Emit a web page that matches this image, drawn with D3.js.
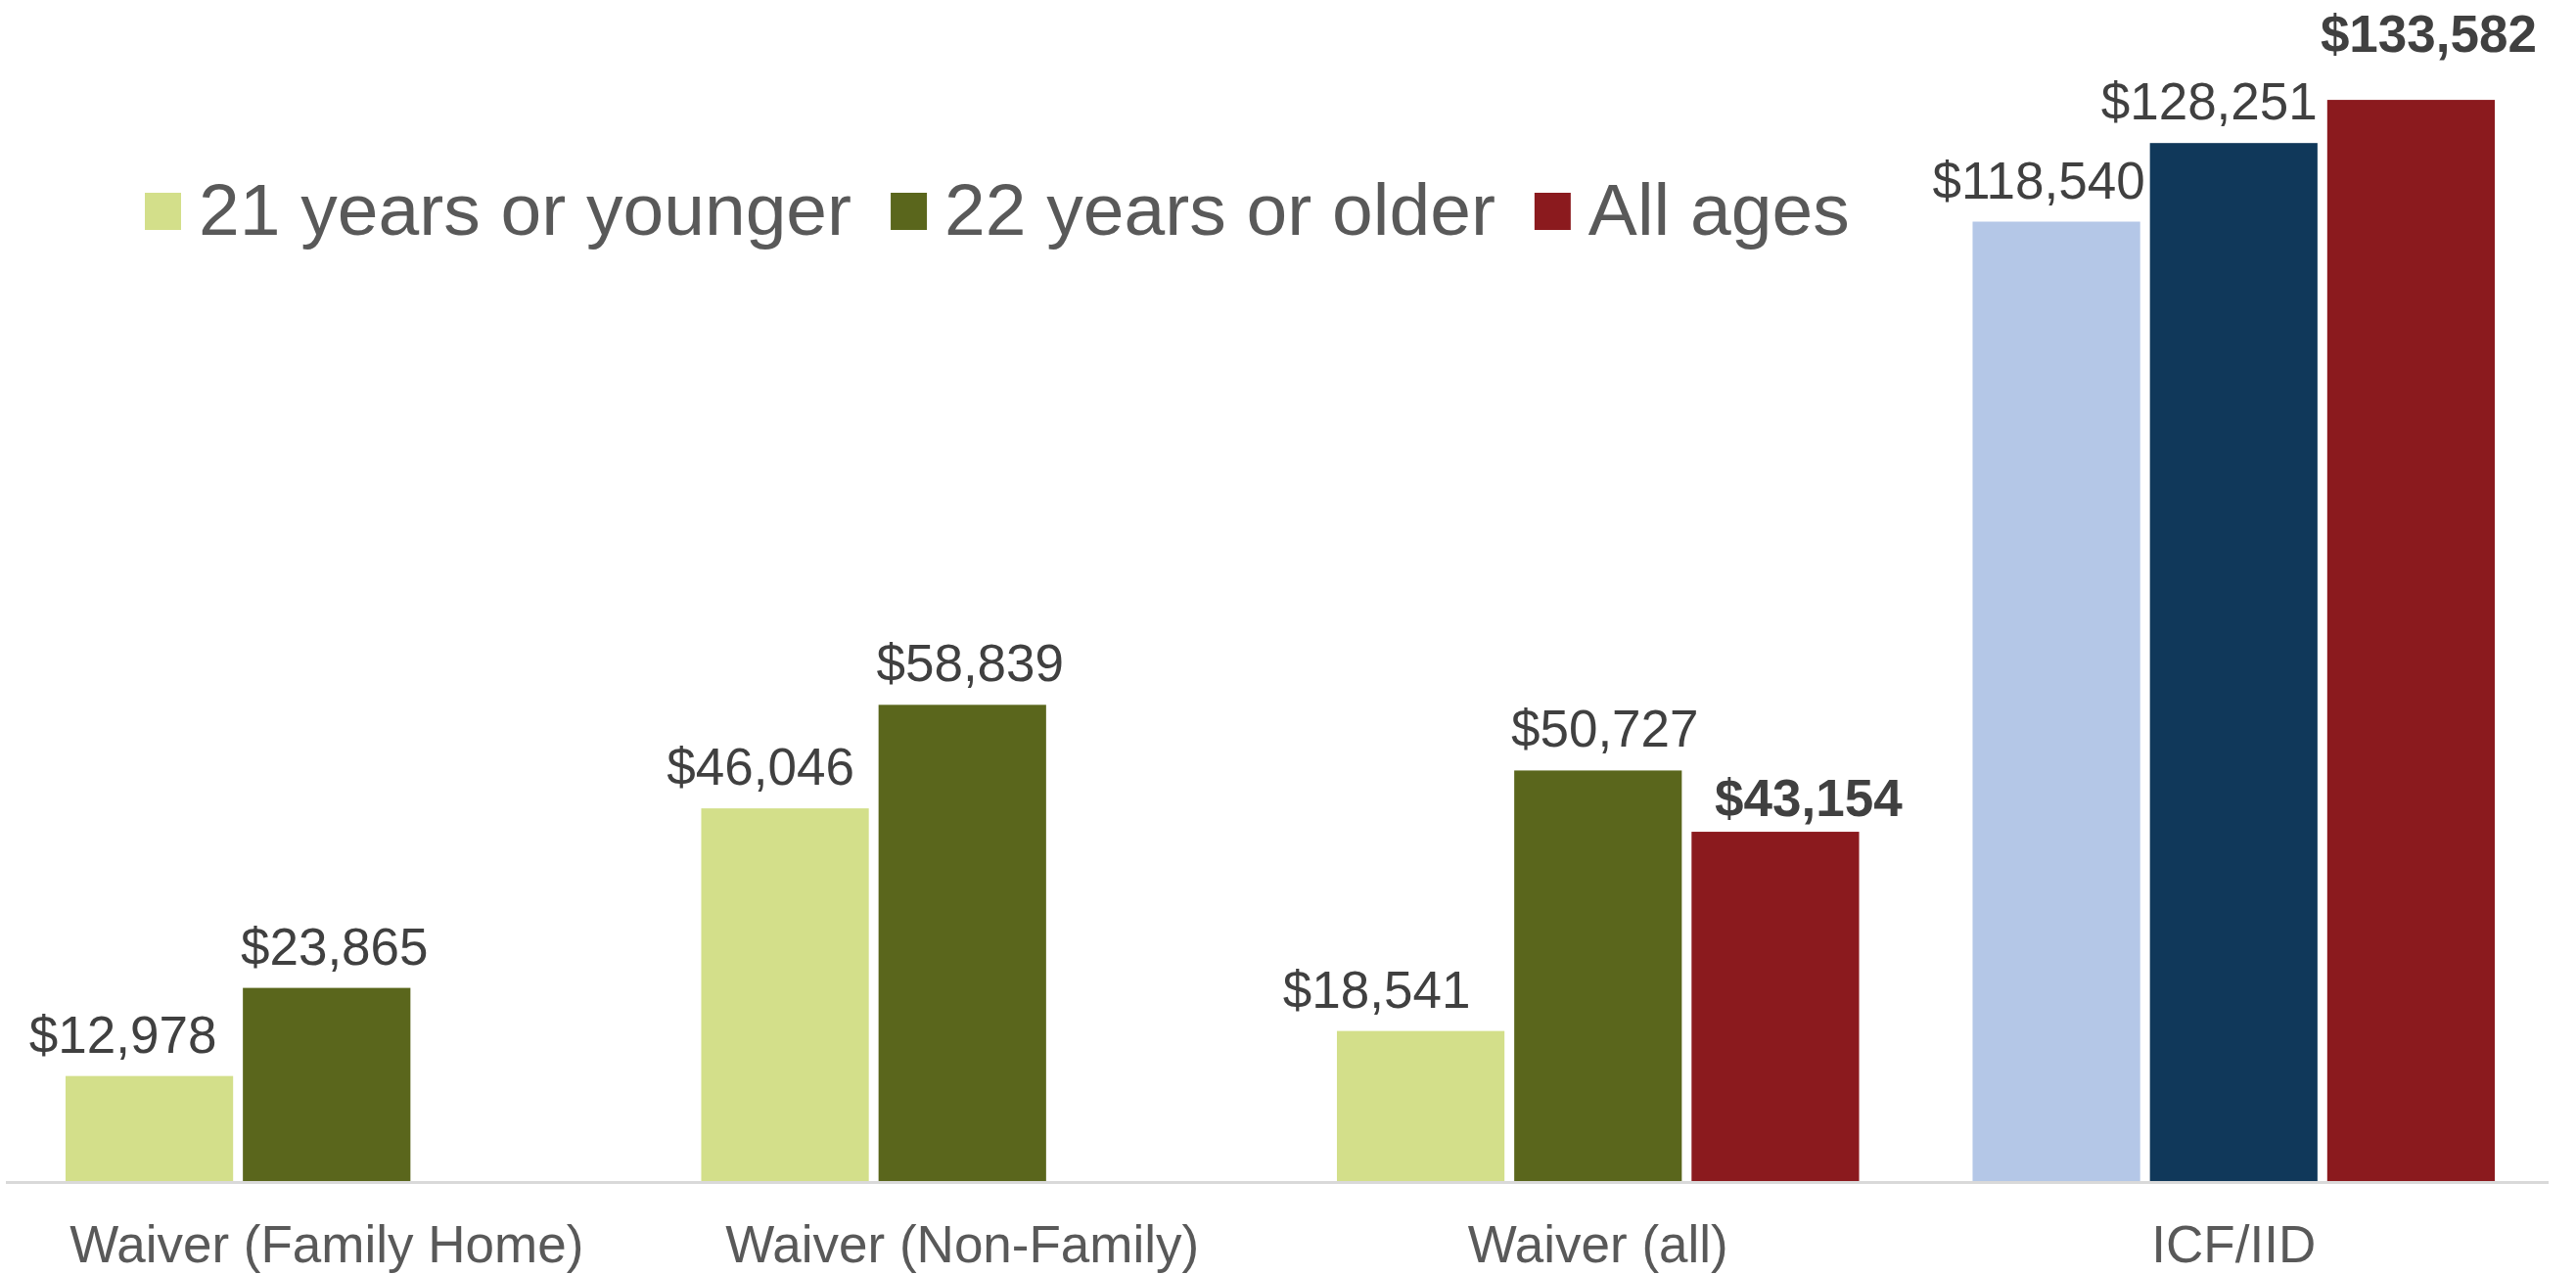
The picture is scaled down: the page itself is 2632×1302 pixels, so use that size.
<!DOCTYPE html>
<meta charset="utf-8">
<style>
body { margin: 0; background: #fff; }
text { font-family: "Liberation Sans", Arial, sans-serif; }
.value { fill: #404040; font-size: 53px; }
.value.bold { font-weight: bold; }
.cat { fill: #595959; font-size: 53px; }
.legend text { fill: #595959; font-size: 75px; }
.baseline { stroke: #d9d9d9; stroke-width: 3px; }
</style>
<body>
<script src="https://d3js.org/d3.v7.min.js"></script>
<script>

var categories = ["Waiver (Family Home)", "Waiver (Non-Family)", "Waiver (all)", "ICF/IID"];
var series = ["21 years or younger", "22 years or older", "All ages"];

// null = no bar for that group
var young = [12978, 46046, 18541, 118540];
var older = [23865, 58839, 50727, 128251];
var allAges = [null, null, 43154, 133582];

var seriesColors = ["#d3df8a", "#5a661c", "#8b1a1e"];
var icfColors = ["#b4c7e7", "#10385a", "#8b1a1e"];

// small nudges the original applied to the value labels [dx, dy]
var labelNudge = [
  [[-27, 0], [8, 0], [0, 0]],
  [[-25, 0], [8, 0], [0, 0]],
  [[-45, 0], [7, 0], [34, 8]],
  [[-18, 0], [-25, 0], [18, -25]]
];

var width = 2632,
    height = 1302;

var svg = d3.select("body").append("svg")
    .attr("width", width)
    .attr("height", height);

var x0 = d3.scaleBand()
    .domain(categories)
    .range([9, 2607]);

var x1 = d3.scaleBand()
    .domain(series)
    .range([0, x0.bandwidth()])
    .paddingInner(0.055)
    .paddingOuter(0.32);

var y = d3.scaleLinear()
    .domain([0, 140000])
    .range([1207, 49]);

var rows = [];
categories.forEach(function(c, i) {
  [young, older, allAges].forEach(function(vals, j) {
    if (vals[i] == null) return;
    rows.push({cat: c, ci: i, s: series[j], si: j, value: vals[i]});
  });
});

var fmt = d3.format("$,");

var bars = svg.append("g");

bars.selectAll("rect")
    .data(rows)
  .enter().append("rect")
    .attr("x", function(d) { return x0(d.cat) + x1(d.s); })
    .attr("y", function(d) { return y(d.value); })
    .attr("width", x1.bandwidth())
    .attr("height", function(d) { return y(0) - y(d.value); })
    .style("fill", function(d) {
      return d.cat === "ICF/IID" ? icfColors[d.si] : seriesColors[d.si];
    });

bars.selectAll("text")
    .data(rows)
  .enter().append("text")
    .attr("class", function(d) { return d.si === 2 ? "value bold" : "value"; })
    .attr("x", function(d) { return x0(d.cat) + x1(d.s) + x1.bandwidth() / 2 + labelNudge[d.ci][d.si][0]; })
    .attr("y", function(d) { return y(d.value) - 24 + labelNudge[d.ci][d.si][1]; })
    .attr("text-anchor", "middle")
    .text(function(d) { return fmt(d.value); });

svg.append("line")
    .attr("class", "baseline")
    .attr("x1", 6)
    .attr("x2", 2604)
    .attr("y1", y(0) + 1.5)
    .attr("y2", y(0) + 1.5);

svg.append("g").selectAll("text")
    .data(categories)
  .enter().append("text")
    .attr("class", "cat")
    .attr("x", function(d) { return x0(d) + x0.bandwidth() / 2; })
    .attr("y", 1290)
    .attr("text-anchor", "middle")
    .text(function(d) { return d; });

// legend, laid out left to right
var legend = svg.append("g").attr("class", "legend");
var lx = 148;
series.forEach(function(s, i) {
  legend.append("rect")
      .attr("x", lx)
      .attr("y", 197)
      .attr("width", 37)
      .attr("height", 38)
      .style("fill", seriesColors[i]);
  var t = legend.append("text")
      .attr("x", lx + 55)
      .attr("y", 240)
      .text(s);
  lx += 55 + t.node().getComputedTextLength() + 40;
});

</script>
